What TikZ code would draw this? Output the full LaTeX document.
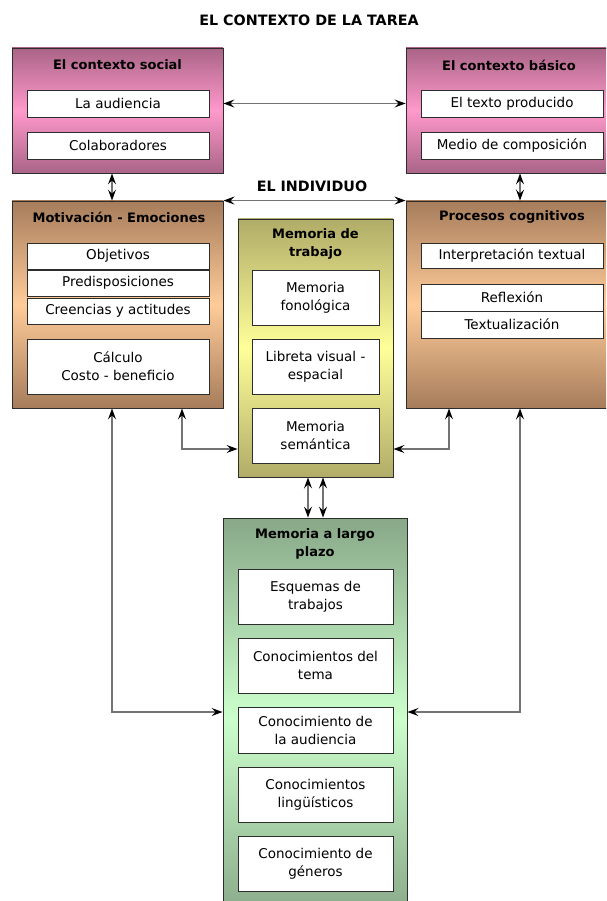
\documentclass[tikz,border=0pt]{standalone}
\usepackage{fontspec}
\setmainfont{DejaVu Sans}
\usetikzlibrary{arrows.meta}

\definecolor{rosaosc}{RGB}{170,100,135}
\definecolor{rosa}{RGB}{255,153,204}
\definecolor{cafeosc}{RGB}{166,124,91}
\definecolor{durazno}{RGB}{255,204,153}
\definecolor{olivo}{RGB}{176,172,104}
\definecolor{amarillo}{RGB}{255,255,153}
\definecolor{verdeosc}{RGB}{136,168,136}
\definecolor{verdeclaro}{RGB}{204,255,204}
\definecolor{borde}{RGB}{45,45,45}
\definecolor{linea}{RGB}{115,115,115}

\tikzset{
    marco/.style={draw=borde, line width=0.9pt, inner sep=0pt},
    social/.style={marco, top color=rosaosc, bottom color=rosaosc, middle color=rosa},
    cafe/.style={marco, top color=cafeosc, bottom color=cafeosc, middle color=durazno},
    trabajo/.style={marco, top color=olivo, bottom color=olivo, middle color=amarillo},
    largo/.style={marco, top color=verdeosc, bottom color=verdeosc, middle color=verdeclaro},
    caja/.style={draw=borde, line width=0.9pt, fill=white, minimum width=#1, align=center, inner sep=0pt},
    titulo/.style={font=\bfseries\fontsize{13}{18}\selectfont, align=center},
    encabezado/.style={font=\bfseries\fontsize{14.3}{18}\selectfont},
    flecha/.style={draw=linea, line width=1.4pt, {Stealth[length=11pt, width=8pt, inset=4pt, color=black]}-{Stealth[length=11pt, width=8pt, inset=4pt, color=black]}}
}

\begin{document}
\begin{tikzpicture}[x=1pt, y=-1pt, font=\fontsize{13.5}{18}\selectfont]
\clip (0,0) rectangle (606,901);
\fill[white] (0,0) rectangle (606,901);

% 1. Titulos generales
\node[encabezado] (tarea) at (309,20) {EL CONTEXTO DE LA TAREA};
\node[encabezado] (individuo) at (312,186) {EL INDIVIDUO};

% 2. El contexto social y el contexto basico
\node[social, minimum width=211pt, minimum height=125pt] (social) at (117.5,110.5) {};
\node[social, minimum width=211pt, minimum height=125pt] (basico) at (511.5,110.5) {};
\node[titulo] (tsocial) at (117.5,65) {El contexto social};
\node[titulo] (tbasico) at (509,65) {El contexto básico};
\node[caja=182pt, minimum height=27pt] (audiencia) at (118,103.5) {La audiencia};
\node[caja=182pt, minimum height=27pt] (colab) at (118,145.5) {Colaboradores};
\node[caja=182pt, minimum height=27pt] (texto) at (512,103.5) {El texto producido};
\node[caja=182pt, minimum height=27pt] (medio) at (512,145.5) {Medio de composición};

% 3. Motivacion y procesos cognitivos
\node[cafe, minimum width=211pt, minimum height=207pt] (motiv) at (117.5,304.5) {};
\node[cafe, minimum width=211pt, minimum height=207pt] (procesos) at (511.5,304.5) {};
\node[titulo] (tmotiv) at (119,217) {Motivación - Emociones};
\node[titulo] (tprocesos) at (512,217) {Procesos cognitivos};
\node[caja=182pt, minimum height=26pt] (objetivos) at (118,256) {Objetivos};
\node[caja=182pt, minimum height=26pt] (predisp) at (118,283) {Predisposiciones};
\node[caja=182pt, minimum height=26pt] (creencias) at (118,311) {Creencias y actitudes};
\node[caja=182pt, minimum height=55pt] (calculo) at (118,366.5) {Cálculo\\Costo - beneficio};
\node[caja=182pt, minimum height=25pt] (interp) at (512,255.5) {Interpretación textual};
\node[caja=182pt, minimum height=27pt] (reflexion) at (512,297.5) {Reflexión};
\node[caja=182pt, minimum height=27pt] (textual) at (512,324.5) {Textualización};

% 4. Memoria de trabajo
\node[trabajo, minimum width=155pt, minimum height=258pt] (trabajo) at (315.5,348) {};
\node[titulo] (ttrabajo) at (315.5,244) {Memoria de\\trabajo};
\node[caja=127pt, minimum height=55pt] (fonologica) at (315.5,297.5) {Memoria\\fonológica};
\node[caja=127pt, minimum height=55pt] (libreta) at (315.5,366.5) {Libreta visual -\\espacial};
\node[caja=127pt, minimum height=55pt] (semantica) at (315.5,435.5) {Memoria\\semántica};

% 5. Memoria a largo plazo
\node[largo, minimum width=184pt, minimum height=400pt] (largo) at (315,718) {};
\node[titulo] (tlargo) at (315,544) {Memoria a largo\\plazo};
\foreach \y/\h/\n/\t in {596.5/55/esquemas/{Esquemas de\\trabajos},
                         665.5/55/tema/{Conocimientos del\\tema},
                         730/46/conaud/{Conocimiento de\\la audiencia},
                         794.5/55/linguis/{Conocimientos\\lingüísticos},
                         863.5/55/generos/{Conocimiento de\\géneros}} {
    \node[caja=155pt, minimum height=\h pt] (\n) at (315.5,\y) {\t};
}

% 6. Flechas
\coordinate (colA) at (112,0);
\coordinate (colB) at (182,0);
\coordinate (colC) at (449,0);
\coordinate (colD) at (520,0);
\coordinate (colE) at (308,0);
\coordinate (colF) at (323,0);
\coordinate (filaA) at (0,449);
\coordinate (filaB) at (0,712);

\draw[flecha] (social.east |- audiencia) -- (basico.west |- audiencia);
\draw[flecha] (social.south -| colA) -- (motiv.north -| colA);
\draw[flecha] (basico.south -| colD) -- (procesos.north -| colD);
\draw[flecha] (motiv.north east) -- (procesos.north west);
\draw[flecha] (motiv.south -| colB) |- (trabajo.west |- filaA);
\draw[flecha] (procesos.south -| colC) |- (trabajo.east |- filaA);
\draw[flecha] (motiv.south -| colA) |- (largo.west |- filaB);
\draw[flecha] (procesos.south -| colD) |- (largo.east |- filaB);
\foreach \c in {colE,colF} {
    \draw[flecha] (trabajo.south -| \c) -- (largo.north -| \c);
}
\end{tikzpicture}
\end{document}
